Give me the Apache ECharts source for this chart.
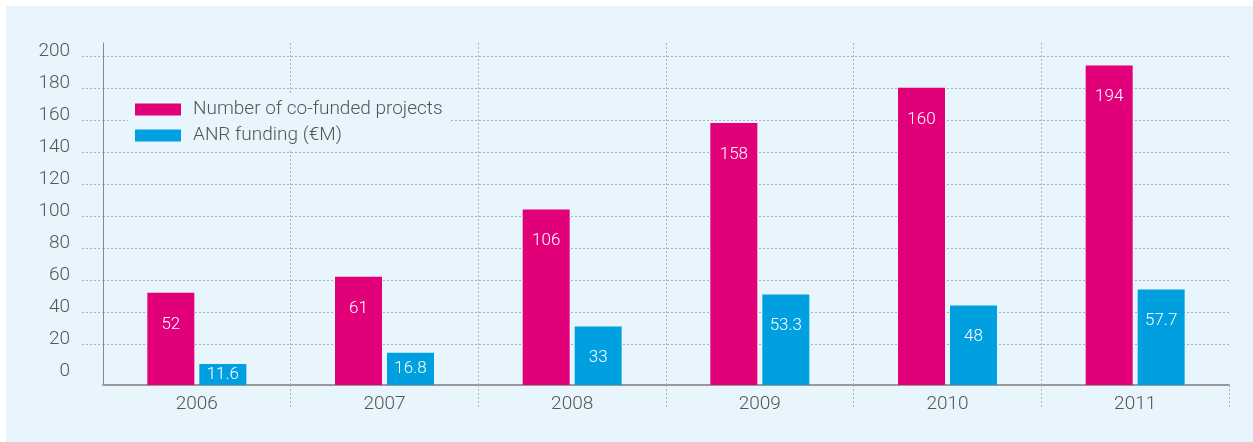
<!DOCTYPE html>
<html lang="en">
<head>
    <meta charset="UTF-8">
    <title>ANR co-funded projects</title>
    <style>
        * { padding: 0; margin: 0; box-sizing: border-box; }
        html, body { width: 100%; height: 100%; overflow: hidden; background: #fff; }
        #panel { position: absolute; left: 6px; top: 6px; right: 0; bottom: 0; background: #e8f5fc; }
        #box { position: absolute; left: 0; top: 0; width: 1253px; height: 442px; }
    </style>
</head>
<body>
    <div id="panel"></div>
    <div id="box"></div>
<script src="https://cdn.jsdelivr.net/npm/echarts@6/dist/echarts.min.js"></script>
<script>
    // data
    var years = ['2006', '2007', '2008', '2009', '2010', '2011'];
    var projects = [52, 62, 104, 158, 180, 194];            // bar heights as drawn
    var projectLabels = ['52', '61', '106', '158', '160', '194'];
    var funding = [7.5, 14.5, 31, 51, 44, 54];               // bar heights as drawn
    var fundingLabels = ['11.6', '16.8', '33', '53.3', '48', '57.7'];
    var yLabels = [0, 20, 40, 60, 80, 100, 120, 140, 160, 180, 200];
    var yLines = [20, 40, 60, 80, 100, 120, 140, 160, 180, 200];

    var pink = '#e2007a';
    var blue = '#009fe0';
    var font = 'Roboto, "Liberation Sans", sans-serif';

    var box = echarts.init(document.getElementById('box'));

    var makeData = function (vals, labels) {
        var res = [];
        for (var i = 0; i < vals.length; i++) {
            var item = { value: vals[i], labelText: labels[i] };
            if (vals[i] < 20) {
                item.label = { position: 'inside' };
            }
            res.push(item);
        }
        return res;
    };

    var dotted = { color: '#a9b3bb', type: [2, 2], width: 1 };

    var option = {
        animation: false,
        textStyle: { fontFamily: font, fontWeight: 300 },
        legend: {
            orient: 'vertical',
            left: 128,
            top: 94,
            padding: [6, 8, 6, 7],
            itemWidth: 46,
            itemHeight: 12,
            itemGap: 7,
            backgroundColor: '#e8f5fc',
            icon: 'rect',
            textStyle: {
                color: '#555', fontSize: 19, fontFamily: font, fontWeight: 300,
                width: 256, padding: [0, 0, 0, 7]
            },
            data: ['Number of co-funded projects', 'ANR funding (€M)']
        },
        grid: [
            { left: 82, width: 21, top: 43, bottom: 57 },
            { left: 103, right: 24, top: 43, bottom: 57 }
        ],
        xAxis: [
            { gridIndex: 0, type: 'value', min: 0, max: 1, show: false },
            {
                gridIndex: 1,
                type: 'category',
                data: years,
                axisLine: { onZero: false, lineStyle: { color: '#999', width: 2 } },
                axisTick: {
                    show: true,
                    length: 22,
                    interval: function (i) { return i > 0; },
                    lineStyle: dotted
                },
                splitLine: {
                    show: true,
                    interval: function (i) { return i > 0; },
                    showMaxLine: false,
                    lineStyle: dotted
                },
                axisLabel: { color: '#555', fontSize: 19, margin: 10, fontFamily: font, fontWeight: 300 }
            }
        ],
        yAxis: [
            {
                gridIndex: 0,
                type: 'value',
                min: -5.6,
                max: 208,
                axisLine: { show: false },
                axisTick: { show: false, customValues: yLines },
                splitLine: { show: true, lineStyle: dotted },
                axisLabel: {
                    customValues: yLabels,
                    color: '#555',
                    fontSize: 19,
                    margin: 12,
                    verticalAlign: 'bottom',
                    lineHeight: 9,
                    fontFamily: font,
                    fontWeight: 300
                }
            },
            {
                gridIndex: 1,
                type: 'value',
                min: -5.6,
                max: 208,
                startValue: -5.6,
                axisLine: { show: true, lineStyle: { color: '#888', width: 1 } },
                axisTick: { show: false, customValues: yLines },
                splitLine: { show: true, lineStyle: dotted },
                axisLabel: { show: false }
            }
        ],
        series: [
            {
                name: 'Number of co-funded projects',
                type: 'bar',
                xAxisIndex: 1,
                yAxisIndex: 1,
                barWidth: 47,
                barGap: '10.6%',
                itemStyle: { color: pink },
                label: {
                    show: true,
                    position: 'insideTop',
                    distance: 23,
                    color: '#fff',
                    fontSize: 17,
                    fontFamily: font,
                    fontWeight: 300,
                    formatter: function (p) { return p.data.labelText; }
                },
                data: makeData(projects, projectLabels)
            },
            {
                name: 'ANR funding (€M)',
                type: 'bar',
                xAxisIndex: 1,
                yAxisIndex: 1,
                barWidth: 47,
                itemStyle: { color: blue },
                label: {
                    show: true,
                    position: 'insideTop',
                    distance: 23,
                    color: '#fff',
                    fontSize: 17,
                    fontFamily: font,
                    fontWeight: 300,
                    formatter: function (p) { return p.data.labelText; }
                },
                data: makeData(funding, fundingLabels)
            }
        ]
    };
    box.setOption(option);
</script>
</body>
</html>
